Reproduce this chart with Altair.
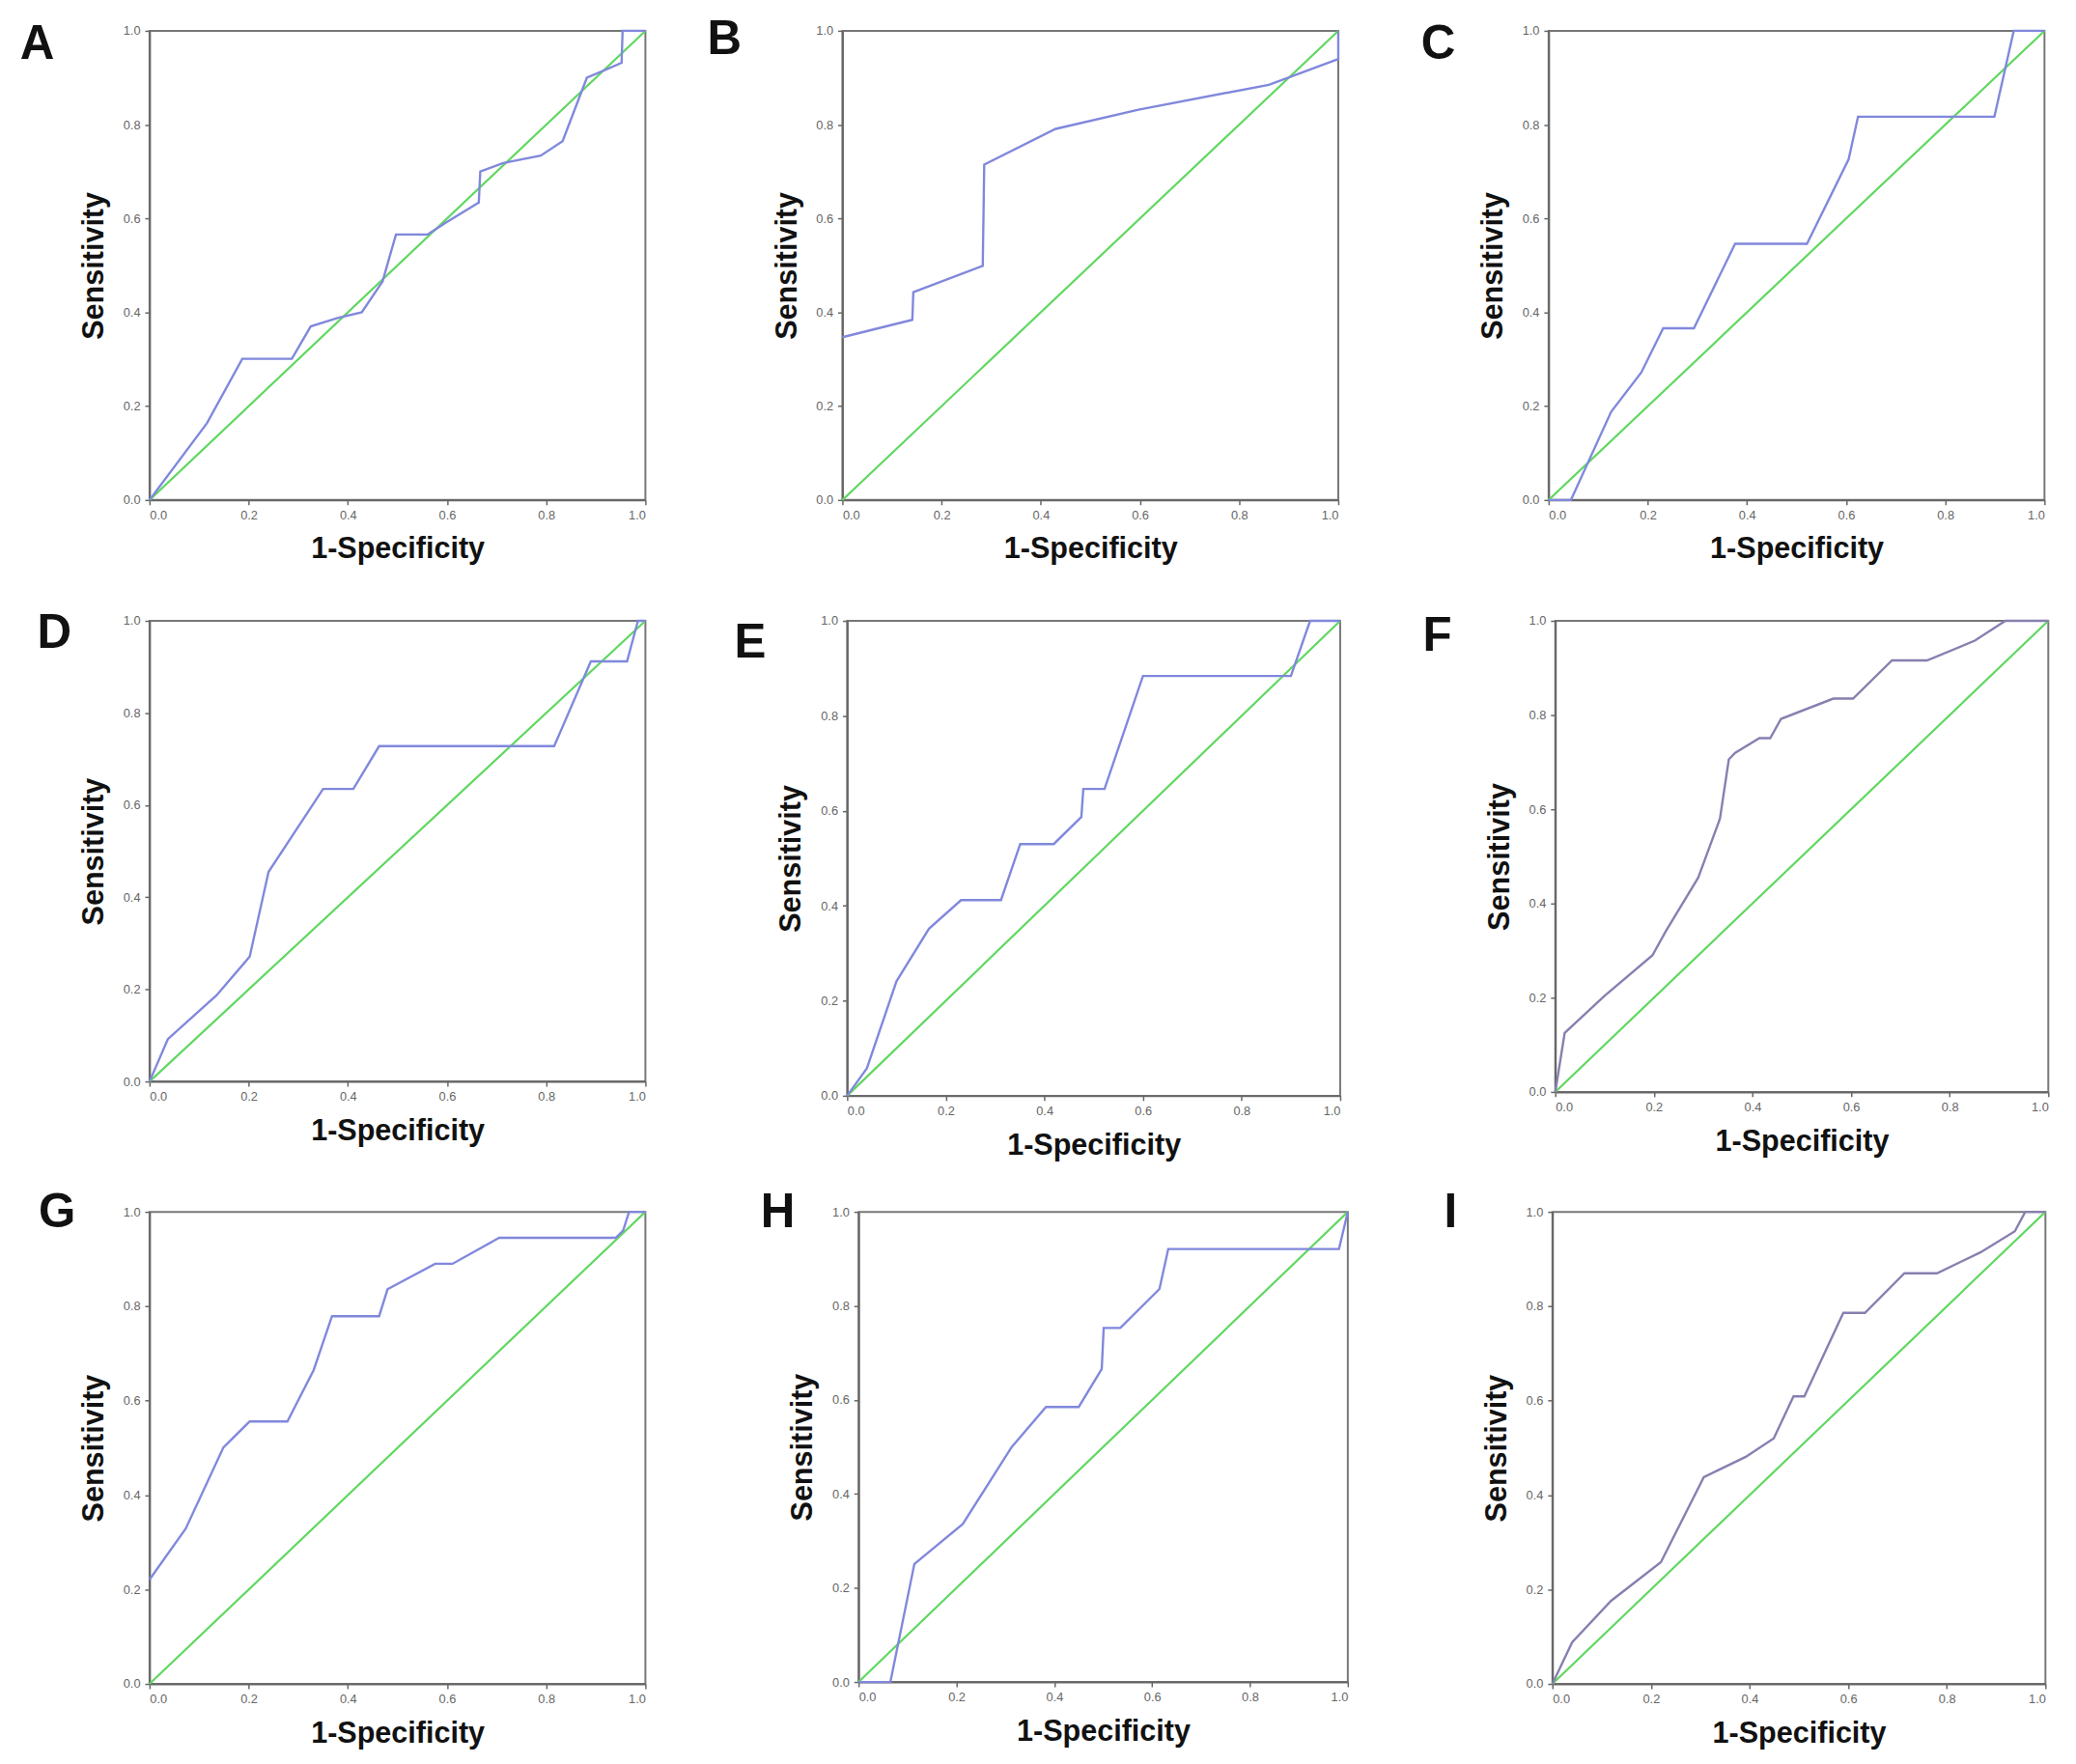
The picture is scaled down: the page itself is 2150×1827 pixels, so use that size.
import altair as alt
import pandas as pd

# ---- ROC data (x = 1-Specificity, y = Sensitivity) ----
A_x = [0.0, 0.116, 0.187, 0.287, 0.325, 0.379, 0.428, 0.47, 0.497, 0.561, 0.597, 0.664, 0.667, 0.713, 0.789, 0.833, 0.882, 0.909, 0.952, 0.954, 1.0]
A_y = [0.0, 0.164, 0.301, 0.301, 0.37, 0.388, 0.40, 0.466, 0.566, 0.566, 0.591, 0.634, 0.70, 0.718, 0.734, 0.765, 0.90, 0.912, 0.932, 1.0, 1.0]

B_x = [0.0, 0.141, 0.143, 0.283, 0.286, 0.43, 0.597, 0.86, 1.0, 1.0]
B_y = [0.347, 0.384, 0.443, 0.499, 0.715, 0.791, 0.832, 0.885, 0.94, 1.0]

C_x = [0.0, 0.045, 0.126, 0.187, 0.231, 0.293, 0.376, 0.521, 0.605, 0.624, 0.899, 0.938, 1.0]
C_y = [0.0, 0.0, 0.188, 0.272, 0.366, 0.366, 0.546, 0.546, 0.726, 0.817, 0.817, 1.0, 1.0]

D_x = [0.0, 0.037, 0.135, 0.202, 0.24, 0.35, 0.411, 0.463, 0.816, 0.89, 0.963, 0.985, 1.0]
D_y = [0.0, 0.092, 0.187, 0.271, 0.455, 0.635, 0.635, 0.728, 0.728, 0.912, 0.912, 1.0, 1.0]

E_x = [0.0, 0.04, 0.1, 0.166, 0.231, 0.312, 0.351, 0.419, 0.475, 0.479, 0.522, 0.6, 0.9, 0.939, 1.0]
E_y = [0.0, 0.058, 0.241, 0.352, 0.412, 0.412, 0.53, 0.53, 0.587, 0.646, 0.646, 0.884, 0.884, 1.0, 1.0]

F_x = [0.0, 0.019, 0.1, 0.197, 0.224, 0.29, 0.334, 0.352, 0.365, 0.414, 0.436, 0.458, 0.564, 0.604, 0.683, 0.754, 0.851, 0.913, 1.0]
F_y = [0.0, 0.125, 0.204, 0.29, 0.341, 0.455, 0.58, 0.706, 0.72, 0.751, 0.751, 0.792, 0.835, 0.835, 0.916, 0.916, 0.958, 1.0, 1.0]

G_x = [0.0, 0.073, 0.149, 0.202, 0.278, 0.331, 0.368, 0.463, 0.48, 0.576, 0.611, 0.705, 0.94, 0.955, 0.967, 1.0]
G_y = [0.221, 0.329, 0.501, 0.556, 0.556, 0.665, 0.779, 0.779, 0.836, 0.89, 0.89, 0.945, 0.945, 0.96, 1.0, 1.0]

H_x = [0.0, 0.065, 0.114, 0.213, 0.313, 0.383, 0.45, 0.497, 0.501, 0.535, 0.615, 0.633, 0.982, 1.0]
H_y = [0.0, 0.0, 0.251, 0.336, 0.5, 0.585, 0.585, 0.666, 0.753, 0.753, 0.836, 0.921, 0.921, 1.0]

I_x = [0.0, 0.04, 0.119, 0.22, 0.307, 0.392, 0.449, 0.489, 0.511, 0.59, 0.634, 0.714, 0.78, 0.868, 0.938, 0.959, 1.0]
I_y = [0.0, 0.088, 0.176, 0.258, 0.438, 0.481, 0.52, 0.609, 0.609, 0.786, 0.786, 0.87, 0.87, 0.914, 0.959, 1.0, 1.0]

diag_x = [0.0, 1.0]
diag_y = [0.0, 1.0]
tick_values = [0.0, 0.2, 0.4, 0.6, 0.8, 1.0]

BLUE = "#8088dc"
PURPLE = "#877fb0"
GREEN = "#5fd760"
FONT = "Liberation Sans"

# letter, x, y, width, height, curve colour, letter dx, letter dy, top extent
panels = [
    ("A", A_x, A_y, 521, 493, BLUE, -118, 14, 17),
    ("B", B_x, B_y, 521, 493, BLUE, -124, 9, 17),
    ("C", C_x, C_y, 521, 493, BLUE, -116, 14, 17),
    ("D", D_x, D_y, 521, 484, BLUE, -100, 13, 17),
    ("E", E_x, E_y, 518, 499, BLUE, -102, 24, 17),
    ("F", F_x, F_y, 518, 495, PURPLE, -124, 16, 17),
    ("G", G_x, G_y, 521, 496, BLUE, -97, 1, 26),
    ("H", H_x, H_y, 514, 494, BLUE, -85, 1, 26),
    ("I", I_x, I_y, 518, 496, PURPLE, -107, 1, 26),
]

LEFT_EXT = 140   # panel extent to the left of the plot area
RIGHT_EXT = 15   # panel extent to the right of the plot area
BOTTOM_EXT = 72  # panel extent below the plot area


def make_panel(letter, xs, ys, w, h, color, ldx, ldy, top_ext):
    df = pd.DataFrame({"x": xs, "y": ys, "order": list(range(len(xs)))})
    dg = pd.DataFrame({"x": diag_x, "y": diag_y})
    xenc = alt.X("x:Q", scale=alt.Scale(domain=[0, 1], nice=False),
                 axis=alt.Axis(values=tick_values, format=".1f", title="1-Specificity",
                               titlePadding=14))
    yenc = alt.Y("y:Q", scale=alt.Scale(domain=[0, 1], nice=False),
                 axis=alt.Axis(values=tick_values, format=".1f", title="Sensitivity",
                               titlePadding=14))
    diag = alt.Chart(dg).mark_line(color=GREEN, strokeWidth=2.2).encode(x=xenc, y=yenc)
    curve = alt.Chart(df).mark_line(color=color, strokeWidth=2.4).encode(
        x=xenc, y=yenc, order="order:Q")
    lab = alt.Chart(pd.DataFrame({"t": [letter]})).mark_text(
        font=FONT, fontSize=50, fontWeight="bold", color="#111",
        align="center", baseline="middle"
    ).encode(text="t:N", x=alt.value(ldx), y=alt.value(ldy))
    # invisible rules that give every panel the same outer extent
    frame_top = alt.Chart(pd.DataFrame({"t": [0]})).mark_rule(opacity=0).encode(
        x=alt.value(-LEFT_EXT), x2=alt.value(w + RIGHT_EXT), y=alt.value(-top_ext))
    frame_bot = alt.Chart(pd.DataFrame({"t": [0]})).mark_rule(opacity=0).encode(
        x=alt.value(-LEFT_EXT), x2=alt.value(w + RIGHT_EXT), y=alt.value(h + BOTTOM_EXT))
    return alt.layer(diag, curve, lab, frame_top, frame_bot).properties(width=w, height=h)


ch = [make_panel(*p) for p in panels]

row1 = alt.hconcat(alt.hconcat(ch[0], ch[1], spacing=47), ch[2], spacing=64)
row2 = alt.hconcat(alt.hconcat(ch[3], ch[4], spacing=55), ch[5], spacing=69)
row3 = alt.hconcat(alt.hconcat(ch[6], ch[7], spacing=67), ch[8], spacing=58)

chart = alt.vconcat(alt.vconcat(row1, row2, spacing=36), row3, spacing=22).properties(
    padding={"left": 8, "top": -7, "right": 5, "bottom": 5},
    background="white",
).configure_view(
    stroke="#777", strokeWidth=2
).configure_axis(
    grid=False,
    domainColor="#666", domainWidth=2,
    tickColor="#666", tickSize=5, tickWidth=1.5,
    labelFont=FONT, labelFontSize=13, labelColor="#666", labelPadding=5,
    titleFont=FONT, titleFontSize=31, titleFontWeight="bold", titleColor="#111",
)

chart.save("out.html", embed_options={"renderer": "svg", "actions": False})
